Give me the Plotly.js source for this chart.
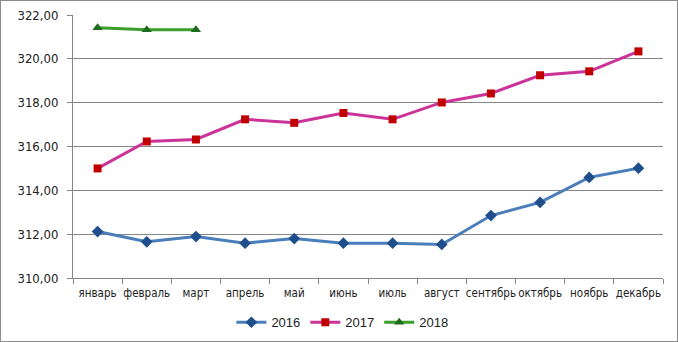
<!DOCTYPE html>
<html><head><meta charset="utf-8">
<script src="https://cdn.plot.ly/plotly-3.0.1.min.js"></script>
<style>
html,body{margin:0;padding:0;background:#fff;}
#chart{width:676px;height:340px;border:1px solid #8c8c8c;}
</style></head>
<body><div id="chart"></div>
<script>
const months = ["январь","февраль","март","апрель","май","июнь","июль","август","сентябрь","октябрь","ноябрь","декабрь"];
const v2016 = [312.12,311.65,311.89,311.59,311.80,311.59,311.59,311.53,312.85,313.45,314.59,315.01];
const v2017 = [315.00,316.23,316.32,317.24,317.08,317.53,317.24,318.01,318.42,319.25,319.43,320.34];
const v2018 = [321.42,321.33,321.33];
const months2018 = months.slice(0,3);

const traces = [
 {x:months,y:v2016,name:"2016",type:"scatter",mode:"lines+markers",
  line:{color:"#4A7EBB",width:3},marker:{symbol:"diamond",size:9,color:"#1F4E8C"}},
 {x:months,y:v2017,name:"2017",type:"scatter",mode:"lines+markers",
  line:{color:"#CC3399",width:3},marker:{symbol:"square",size:8,color:"#C00000"}},
 {x:months2018,y:v2018,name:"2018",type:"scatter",mode:"lines+markers",
  line:{color:"#3C9E2A",width:3},marker:{symbol:"triangle-up",size:9,color:"#1E6B1E"}}
];
const layout = {
 width:676,height:340,
 margin:{l:72,r:14,t:14,b:63},
 paper_bgcolor:"#fff",plot_bgcolor:"#fff",
 separators:", ",
 font:{family:"Liberation Sans Narrow, DejaVu Sans Condensed, sans-serif",size:12,color:"#222"},
 showlegend:true,
 legend:{orientation:"h",xref:"container",yref:"container",x:0.505,xanchor:"center",y:0.055,yanchor:"middle",
  font:{size:13,color:"#222",family:"Liberation Sans Narrow, sans-serif"},itemwidth:30,tracegroupgap:0},
 xaxis:{type:"category",categoryorder:"array",categoryarray:months,range:[-0.5,11.5],
  showline:true,linecolor:"#868686",linewidth:1,ticks:"outside",tickson:"boundaries",ticklen:5,tickcolor:"#868686",
  tickangle:0,automargin:false,ticklabelstandoff:4,
  showgrid:false,tickfont:{size:11.5,color:"#222"},fixedrange:true},
 yaxis:{range:[310,322],dtick:2,tickformat:".2f",showline:true,linecolor:"#868686",automargin:false,
  ticks:"outside",ticklen:5,tickcolor:"#868686",gridcolor:"#868686",gridwidth:1,zeroline:false,
  tickfont:{size:13,color:"#222"},ticklabelstandoff:6}
};
Plotly.newPlot("chart",traces,layout,{displayModeBar:false,staticPlot:true});
</script></body></html>
